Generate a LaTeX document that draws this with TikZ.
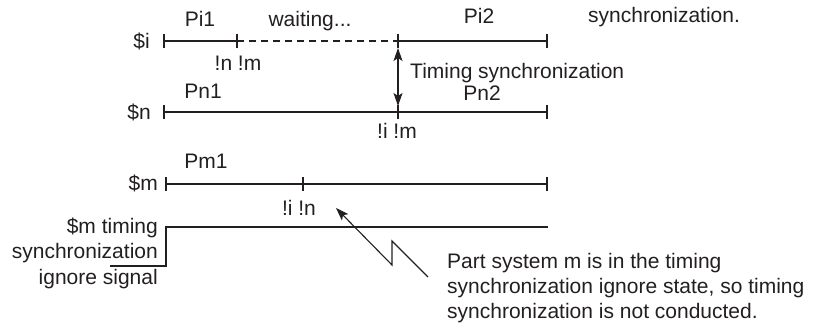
\documentclass[tikz,border=0pt]{standalone}
\usepackage{fontspec}
\setmainfont{Liberation Sans}
\usetikzlibrary{arrows.meta}
\definecolor{ink}{HTML}{231F20}
\begin{document}
\begin{tikzpicture}[x=1pt,y=-1pt,
  lbl/.style={inner sep=0pt, text=ink, font=\fontsize{21}{25.5}\selectfont},
  tl/.style={line width=1.1pt, draw=ink},
  dl/.style={tl, dash pattern=on 7pt off 5pt},
  arr/.style={tl, -{Stealth[length=13pt,width=9pt,inset=3pt]}},
  darr/.style={tl, {Stealth[length=13pt,width=9pt,inset=3pt]}-{Stealth[length=13pt,width=9pt,inset=3pt]}}]
\useasboundingbox (0,0) rectangle (813,325);
% timeline coordinates
\coordinate (i1) at (164,41);  \coordinate (i2) at (237,41);
\coordinate (i3) at (398,41);  \coordinate (i4) at (547,41);
\coordinate (n1) at (164,112); \coordinate (n2) at (398,112);
\coordinate (n3) at (547,112);
\coordinate (m1) at (166,184); \coordinate (m2) at (303,184);
\coordinate (m3) at (547,184);
% timelines
\draw[tl] (i1) -- (i2);
\draw[dl] (i2) -- (i3);
\draw[tl] (i3) -- (i4);
\draw[tl] (n1) -- (n3);
\draw[tl] (m1) -- (m3);
\foreach \p in {i1,i2,i3,i4,n1,n2,n3,m1,m2,m3}
  \draw[tl] ([yshift=-7pt]\p) -- ([yshift=7pt]\p);
% signal
\coordinate (s0) at (110,266); \coordinate (s1) at (166,266);
\coordinate (s2) at (166,227); \coordinate (s3) at (548,227);
\draw[tl] (s0) -- (s1) -- (s2) -- (s3);
% sync arrow
\coordinate (a1) at (398,48); \coordinate (a2) at (398,106);
\draw[darr] (a1) -- (a2);
% zigzag arrow
\coordinate (z0) at (428,277); \coordinate (z1) at (392,241);
\coordinate (z2) at (392,265); \coordinate (z3) at (336,208);
\draw[arr] (z0) -- (z1) -- (z2) -- (z3);
% labels
\node[lbl, anchor=base east] (si) at (150,48) {\$i};
\node[lbl, anchor=base east] (sn) at (151,119) {\$n};
\node[lbl, anchor=base east] (sm) at (158,190) {\$m};
\node[lbl, anchor=base] (pi1) at (200,26) {Pi1};
\node[lbl, anchor=base] (wait) at (310,26) {waiting...};
\node[lbl, anchor=base] (pi2) at (479,23) {Pi2};
\node[lbl, anchor=base west] (syn) at (588,22) {synchronization.};
\node[lbl, anchor=base] (nm) at (238,70) {!n !m};
\node[lbl, anchor=base west] (ts) at (410,78) {Timing synchronization};
\node[lbl, anchor=base] (pn1) at (203,98) {Pn1};
\node[lbl, anchor=base] (pn2) at (482,100) {Pn2};
\node[lbl, anchor=base] (im) at (397,138) {!i !m};
\node[lbl, anchor=base] (pm1) at (206,168) {Pm1};
\node[lbl, anchor=base] (in) at (299,215) {!i !n};
\node[lbl, anchor=base east, align=right] (sig) at (158,284)
  {\$m timing\\synchronization\\ignore signal};
\node[lbl, anchor=base west, align=left, font=\fontsize{21}{25}\selectfont] (part) at (447,318)
  {Part system m is in the timing\\synchronization ignore state, so timing\\synchronization is not conducted.};
\end{tikzpicture}
\end{document}
